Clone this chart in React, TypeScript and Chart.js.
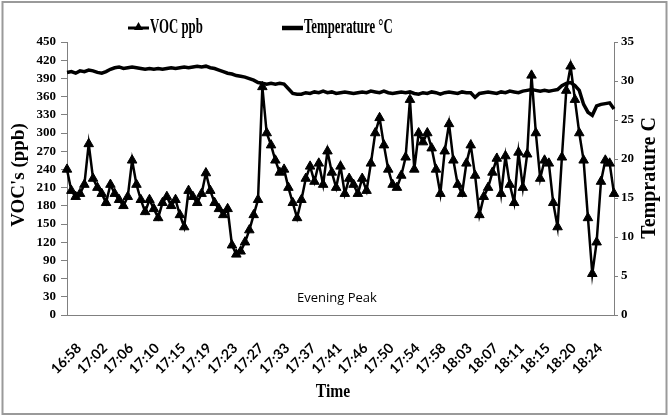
import React, { useEffect, useRef } from "react";
import { Chart, registerables } from "chart.js";

Chart.register(...registerables);

const tickLabels = [
  "16:58", "17:02", "17:06", "17:10", "17:15", "17:19", "17:23", "17:27",
  "17:33", "17:37", "17:41", "17:46", "17:50", "17:54", "17:58", "18:03",
  "18:07", "18:11", "18:15", "18:20", "18:24",
];

const POINTS_PER_TICK = 6;

const vocValues = [
  240, 205, 195, 200, 215, 282, 225, 210, 200, 185,
  215, 200, 190, 180, 195, 255, 215, 190, 170, 190,
  175, 160, 185, 195, 180, 190, 165, 145, 205, 195,
  185, 200, 234, 205, 185, 175, 165, 175, 115, 100,
  105, 120, 140, 165, 190, 376, 300, 280, 255, 235,
  240, 210, 185, 160, 190, 225, 245, 220, 250, 215,
  270, 235, 210, 245, 200, 225, 215, 200, 225, 205,
  250, 300, 325, 280, 240, 215, 210, 230, 260, 355,
  240, 300, 285, 300, 275, 240, 200, 270, 315, 255,
  215, 200, 250, 280, 230, 165, 195, 210, 235, 258,
  200, 262, 215, 185, 268, 210, 265, 395, 300, 225,
  255, 250, 185, 145, 260, 370, 410, 355, 300, 255,
  160, 68, 120, 220, 255, 250, 200,
];

const tempValues = [
  31.1, 31.2, 31.0, 31.3, 31.2, 31.4, 31.3, 31.1, 31.0, 31.2,
  31.5, 31.7, 31.8, 31.6, 31.7, 31.8, 31.7, 31.6, 31.5, 31.6,
  31.5, 31.6, 31.5, 31.6, 31.7, 31.6, 31.7, 31.8, 31.7, 31.8,
  31.9, 31.8, 31.9, 31.7, 31.6, 31.4, 31.2, 31.0, 30.9, 30.7,
  30.6, 30.5, 30.3, 30.1, 29.8, 29.7, 29.6, 29.7, 29.6, 29.7,
  29.6, 29.0, 28.4, 28.3, 28.3, 28.5, 28.4, 28.6, 28.5, 28.7,
  28.5, 28.6, 28.4, 28.5, 28.6, 28.5, 28.4, 28.5, 28.6, 28.5,
  28.7, 28.6, 28.5, 28.7, 28.5, 28.4, 28.5, 28.6, 28.5, 28.6,
  28.4, 28.3, 28.5, 28.4, 28.6, 28.5, 28.3, 28.5, 28.6, 28.5,
  28.4, 28.6, 28.5, 28.5, 27.9, 28.4, 28.5, 28.6, 28.5, 28.4,
  28.6, 28.5, 28.7, 28.6, 28.5, 28.7, 28.8, 28.9, 28.8, 28.7,
  28.8, 28.7, 28.8, 28.9, 29.4, 29.7, 29.8, 29.4, 28.8, 27.0,
  26.0, 25.6, 26.8, 27.0, 27.1, 27.2, 26.4,
];

const legendLabels = ["VOC ppb", "Temperature \u00B0C"];
const leftTitle = "VOC's (ppb)";
const rightTitle = "Temprature C";
const xTitle = "Time";
const annotationText = "Evening Peak";

const categories = vocValues.map((_, i) =>
  i % POINTS_PER_TICK === 0 ? tickLabels[i / POINTS_PER_TICK] ?? "" : ""
);

const SERIF = '"Liberation Serif", "Times New Roman", serif';

function squishText(ctx: CanvasRenderingContext2D, text: string, x: number, y: number, sx: number, align: CanvasTextAlign) {
  ctx.save();
  ctx.translate(x, y);
  ctx.scale(sx, 1);
  ctx.textAlign = align;
  ctx.fillText(text, 0, 0);
  ctx.restore();
}

const decorPlugin = {
  id: "decor",
  beforeDraw(chart: any) {
    const ctx: CanvasRenderingContext2D = chart.ctx;
    ctx.save();
    ctx.fillStyle = "#ffffff";
    ctx.fillRect(0, 0, chart.width, chart.height);
    ctx.strokeStyle = "#9a9a9a";
    ctx.lineWidth = 2;
    ctx.strokeRect(2.5, 2, 664, 412);
    ctx.restore();
  },
  afterDraw(chart: any) {
    const ctx: CanvasRenderingContext2D = chart.ctx;
    ctx.save();
    ctx.fillStyle = "#000";
    ctx.strokeStyle = "#000";
    // legend
    const ly = 28;
    ctx.lineWidth = 3;
    ctx.beginPath();
    ctx.moveTo(128, ly);
    ctx.lineTo(149, ly);
    ctx.stroke();
    ctx.beginPath();
    ctx.moveTo(138.5, ly - 6);
    ctx.lineTo(143, ly + 2);
    ctx.lineTo(134, ly + 2);
    ctx.closePath();
    ctx.fill();
    ctx.lineWidth = 4.5;
    ctx.beginPath();
    ctx.moveTo(282, ly);
    ctx.lineTo(303, ly);
    ctx.stroke();
    ctx.font = `bold 20px ${SERIF}`;
    ctx.textBaseline = "middle";
    squishText(ctx, legendLabels[0], 150, ly, 0.64, "left");
    squishText(ctx, legendLabels[1], 304, ly, 0.64, "left");

    // axis titles
    ctx.font = `bold 19px ${SERIF}`;
    ctx.save();
    ctx.translate(19, 175);
    ctx.rotate(-Math.PI / 2);
    ctx.textAlign = "center";
    ctx.fillText(leftTitle, 0, 0);
    ctx.restore();

    ctx.font = `bold 20px ${SERIF}`;
    ctx.save();
    ctx.translate(650, 178);
    ctx.rotate(-Math.PI / 2);
    ctx.textAlign = "center";
    ctx.fillText(rightTitle, 0, 0);
    ctx.restore();

    ctx.font = `bold 19px ${SERIF}`;
    squishText(ctx, xTitle, 333, 392, 0.82, "center");

    // annotation
    ctx.font = `13px "Open Sans", "Noto Sans", sans-serif`;
    ctx.textAlign = "center";
    ctx.fillText(annotationText, 337, 298);
    ctx.restore();
  },
};

export default function App() {
  const ref = useRef<HTMLCanvasElement | null>(null);

  useEffect(() => {
    if (!ref.current) return;
    const tickFont = { family: SERIF, size: 13, weight: "bold" as const };
    const chart = new Chart(ref.current, {
      type: "line",
      data: {
        labels: categories,
        datasets: [
          {
            label: legendLabels[0],
            data: vocValues,
            yAxisID: "y",
            borderColor: "#000",
            borderWidth: 2.5,
            pointStyle: "triangle",
            pointRadius: 5.5,
            pointBackgroundColor: "#000",
            pointBorderColor: "#000",
            pointBorderWidth: 1,
            tension: 0,
          },
          {
            label: legendLabels[1],
            data: tempValues,
            yAxisID: "y1",
            borderColor: "#000",
            borderWidth: 3.5,
            pointRadius: 0,
            tension: 0,
          },
        ],
      },
      options: {
        responsive: false,
        animation: false,
        events: [],
        layout: { padding: { top: 42, left: 0, right: 0, bottom: 0 } },
        plugins: {
          legend: { display: false },
          tooltip: { enabled: false },
          title: { display: false },
        },
        scales: {
          x: {
            type: "category",
            offset: false,
            grid: { display: false },
            border: { display: true, color: "#808080", width: 1 },
            ticks: {
              autoSkip: false,
              maxRotation: 45,
              minRotation: 45,
              labelOffset: 12,
              padding: 17,
              color: "#000",
              font: { family: '"Lato", "Carlito", sans-serif', size: 14, weight: "bold" },
              callback: (_v: any, i: number) => categories[i],
            },
            afterFit: (s: any) => {
              s.height = 102;
            },
          },
          y: {
            position: "left",
            min: 0,
            max: 450,
            ticks: { stepSize: 30, autoSkip: false, color: "#000", font: tickFont, padding: 5 },
            grid: { drawOnChartArea: false, drawTicks: true, tickLength: 6, color: "#808080" },
            border: { display: true, color: "#808080" },
            afterFit: (s: any) => {
              s.width = 67;
            },
          },
          y1: {
            position: "right",
            min: 0,
            max: 35,
            ticks: { stepSize: 5, autoSkip: false, color: "#000", font: tickFont, padding: 3 },
            grid: { drawOnChartArea: false, drawTicks: true, tickLength: 4, color: "#808080" },
            border: { display: true, color: "#808080" },
            afterFit: (s: any) => {
              s.width = 55;
            },
          },
        },
      },
      plugins: [decorPlugin],
    });
    return () => chart.destroy();
  }, []);

  return (
    <div style={{ position: "fixed", left: 0, top: 0, width: 669, height: 417, background: "#fff" }}>
      <canvas ref={ref} width={669} height={417} style={{ display: "block", width: 669, height: 417 }} />
    </div>
  );
}
